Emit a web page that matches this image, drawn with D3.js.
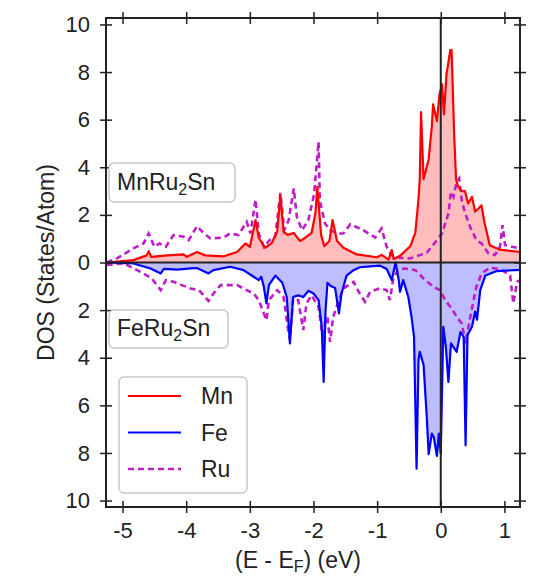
<!DOCTYPE html>
<html>
<head>
<meta charset="utf-8">
<script src="https://cdn.jsdelivr.net/npm/d3@7"></script>
<style>
	body { margin: 0; background: #fff; }
	svg { font-family: "Liberation Sans", Arial, sans-serif; }
</style>
</head>
<body>
<div class="chart"></div>
<script>

// [energy (eV), DOS]; spin down values are negative
var mnDos = [[-5.25,0],[-4.83,0.1],[-4.62,0.3],[-4.59,0.48],[-4.55,0.24],[-4.3,0.3],[-4.04,0.34],[-3.99,0.24],[-3.83,0.44],[-3.7,0.3],[-3.41,0.26],[-3.2,0.44],[-3.07,0.8],[-3.0,0.66],[-2.91,1.78],[-2.86,1.04],[-2.76,0.62],[-2.66,0.8],[-2.57,1.3],[-2.52,2.82],[-2.47,1.3],[-2.41,1.16],[-2.31,1.24],[-2.21,0.9],[-2.13,1.04],[-2.03,1.24],[-1.97,2.06],[-1.94,3.18],[-1.88,1.16],[-1.83,0.68],[-1.75,0.9],[-1.7,1.78],[-1.63,0.9],[-1.53,0.62],[-1.32,0.34],[-1.0,0.22],[-0.93,0.32],[-0.82,0.12],[-0.77,0.52],[-0.74,0.15],[-0.64,0.28],[-0.48,0.68],[-0.4,1.24],[-0.35,2.66],[-0.33,3.5],[-0.31,6.32],[-0.27,3.5],[-0.19,4.34],[-0.14,5.74],[-0.12,6.64],[-0.06,5.94],[-0.02,7.06],[0.02,7.48],[0.05,6.22],[0.09,7.9],[0.15,8.92],[0.17,8.92],[0.21,5.42],[0.24,3.5],[0.27,3.2],[0.33,3.0],[0.38,3.0],[0.43,2.48],[0.49,2.76],[0.54,2.14],[0.59,2.26],[0.64,2.4],[0.69,1.64],[0.77,0.72],[0.93,0.54],[1.25,0.44]];

var ruMnDos = [[-5.25,0],[-5.09,0.17],[-4.83,0.59],[-4.67,0.8],[-4.59,1.22],[-4.5,0.66],[-4.42,0.8],[-4.32,0.66],[-4.2,1.15],[-4.04,1.08],[-3.96,0.94],[-3.83,1.53],[-3.72,1.22],[-3.62,1.01],[-3.41,1.05],[-3.31,1.22],[-3.18,1.15],[-3.05,1.71],[-2.99,1.22],[-2.91,2.65],[-2.86,1.22],[-2.78,0.66],[-2.67,1.0],[-2.6,1.08],[-2.52,2.92],[-2.46,1.36],[-2.39,1.78],[-2.31,3.11],[-2.26,1.9],[-2.18,1.36],[-2.08,1.78],[-1.99,2.88],[-1.92,5.07],[-1.9,2.6],[-1.82,1.65],[-1.74,1.36],[-1.61,1.22],[-1.53,1.22],[-1.42,1.61],[-1.22,1.36],[-1.03,1.05],[-0.93,1.43],[-0.85,0.66],[-0.77,0.31],[-0.64,0.2],[-0.48,0.17],[-0.33,0.31],[-0.22,0.41],[-0.06,0.94],[0.02,1.22],[0.12,2.06],[0.16,2.97],[0.2,2.76],[0.25,3.39],[0.29,3.53],[0.33,2.6],[0.38,2.1],[0.46,1.5],[0.56,0.94],[0.64,0.8],[0.75,0.38],[0.85,0.31],[0.93,0.66],[0.97,1.57],[1.01,0.73],[1.25,0.59]];

var feDos = [[-5.25,0],[-4.83,-0.04],[-4.56,-0.25],[-4.4,-0.46],[-4.35,-0.27],[-4.14,-0.3],[-3.93,-0.25],[-3.83,-0.23],[-3.65,-0.46],[-3.57,-0.32],[-3.31,-0.18],[-3.1,-0.32],[-2.94,-0.6],[-2.86,-0.74],[-2.82,-0.6],[-2.78,-1.02],[-2.74,-1.72],[-2.7,-0.95],[-2.6,-0.55],[-2.49,-0.85],[-2.42,-1.45],[-2.37,-3.4],[-2.32,-1.45],[-2.24,-1.38],[-2.16,-1.45],[-2.08,-1.19],[-2.0,-1.3],[-1.92,-1.58],[-1.87,-2.7],[-1.84,-5.02],[-1.81,-2.0],[-1.78,-0.85],[-1.73,-0.99],[-1.66,-1.07],[-1.6,-2.14],[-1.56,-1.3],[-1.48,-0.55],[-1.38,-0.34],[-1.27,-0.2],[-0.96,-0.13],[-0.85,-0.27],[-0.77,-0.74],[-0.71,0],[-0.66,-0.74],[-0.64,-1.23],[-0.59,-0.74],[-0.51,-1.45],[-0.46,-2.28],[-0.42,-3.12],[-0.38,-8.66],[-0.35,-4.1],[-0.33,-3.75],[-0.27,-4.3],[-0.22,-6.49],[-0.19,-8.05],[-0.14,-7.19],[-0.11,-7.33],[-0.06,-8.12],[-0.03,-7.19],[0.0,-8.03],[0.04,-2.7],[0.08,-3.55],[0.12,-5.02],[0.16,-3.4],[0.2,-3.55],[0.25,-3.75],[0.31,-2.92],[0.36,-3.12],[0.39,-7.68],[0.42,-3.05],[0.49,-2.7],[0.54,-2.06],[0.57,-2.4],[0.62,-1.16],[0.7,-0.55],[0.88,-0.36],[1.25,-0.31]];

var ruFeDos = [[-5.25,-0.1],[-4.98,-0.04],[-4.72,-0.39],[-4.54,-0.67],[-4.4,-1.16],[-4.32,-0.74],[-4.2,-0.81],[-4.07,-0.95],[-3.93,-1.09],[-3.8,-1.16],[-3.65,-1.61],[-3.57,-1.3],[-3.46,-0.95],[-3.2,-0.95],[-3.05,-1.16],[-2.94,-1.3],[-2.86,-1.58],[-2.78,-2.14],[-2.74,-2.42],[-2.7,-1.58],[-2.57,-1.16],[-2.47,-1.45],[-2.39,-2.98],[-2.37,-3.26],[-2.32,-1.52],[-2.24,-1.58],[-2.16,-2.84],[-2.11,-1.72],[-2.03,-1.38],[-1.92,-1.86],[-1.85,-3.26],[-1.82,-2.56],[-1.78,-2.28],[-1.74,-3.33],[-1.69,-2.28],[-1.61,-1.65],[-1.53,-1.09],[-1.37,-0.81],[-1.29,-1.23],[-1.19,-1.65],[-1.11,-1.23],[-0.96,-1.09],[-0.85,-1.16],[-0.8,-1.58],[-0.75,-0.74],[-0.68,-0.32],[-0.56,-0.25],[-0.4,-0.32],[-0.27,-0.67],[-0.12,-1.02],[-0.01,-1.16],[0.07,-1.58],[0.17,-1.93],[0.25,-2.28],[0.33,-2.56],[0.39,-3.4],[0.43,-2.77],[0.49,-1.93],[0.56,-1.02],[0.64,-0.46],[0.77,-0.22],[0.93,-0.27],[1.09,-0.55],[1.14,-1.72],[1.2,-0.81],[1.25,-0.74]];

var xTicks = [-5, -4, -3, -2, -1, 0, 1];
var yTicks = [-10, -8, -6, -4, -2, 0, 2, 4, 6, 8, 10];
var legendNames = ['Mn', 'Fe', 'Ru'];

var w = 548, h = 583;
var pLeft = 106, pRight = 520, pTop = 18, pBottom = 507;

var svg = d3.select('.chart')
	.append('svg')
	.attr('width', w)
	.attr('height', h);

var x = d3.scaleLinear().domain([-5.26, 1.245]).range([pLeft, pRight]);
var y = d3.scaleLinear().domain([-10.27, 10.27]).range([pBottom, pTop]);

var area = d3.area()
	.x(function(d){ return x(d[0]); })
	.y0(y(0))
	.y1(function(d){ return y(d[1]); });

var line = d3.line()
	.x(function(d){ return x(d[0]); })
	.y(function(d){ return y(d[1]); });

svg.append('defs').append('clipPath').attr('id', 'plot')
	.append('rect')
	.attr('x', pLeft).attr('y', pTop)
	.attr('width', pRight - pLeft).attr('height', pBottom - pTop);

var g = svg.append('g').attr('clip-path', 'url(#plot)');

// filled areas first, then lines on top
g.append('path').attr('d', area(mnDos)).attr('fill', '#ffbdbd');
g.append('path').attr('d', area(feDos)).attr('fill', '#bdbdff');

[ruMnDos, ruFeDos].forEach(function(s){
	g.append('path')
		.attr('d', line(s))
		.attr('fill', 'none')
		.attr('stroke', '#c01cc8')
		.attr('stroke-width', 2.6)
		.attr('stroke-dasharray', '6,4');
});

g.append('path').attr('d', line(mnDos)).attr('fill', 'none').attr('stroke', '#ff0000').attr('stroke-width', 2.2).attr('stroke-linejoin', 'round');
g.append('path').attr('d', line(feDos)).attr('fill', 'none').attr('stroke', '#0000ff').attr('stroke-width', 2.2).attr('stroke-linejoin', 'round');

// zero lines
svg.append('line')
	.attr('x1', pLeft).attr('x2', pRight)
	.attr('y1', y(0)).attr('y2', y(0))
	.attr('stroke', '#222').attr('stroke-width', 2);
svg.append('line')
	.attr('x1', x(0)).attr('x2', x(0))
	.attr('y1', pTop).attr('y2', pBottom)
	.attr('stroke', '#222').attr('stroke-width', 2);

// axes: ticks cross the frame on all four sides
function crossTicks(sel, horiz){
	sel.select('.domain').remove();
	sel.selectAll('.tick line')
		.attr('stroke', '#222')
		.attr('stroke-width', 1.5)
		.attr(horiz ? 'y1' : 'x1', -6)
		.attr(horiz ? 'y2' : 'x2', 6);
	sel.selectAll('.tick text')
		.attr('fill', '#222')
		.style('font-size', '22px');
}

svg.append('g')
	.attr('transform', 'translate(0,' + pBottom + ')')
	.call(d3.axisBottom(x).tickValues(xTicks).tickSize(6).tickPadding(9).tickFormat(function(d){ return String(d); }))
	.call(crossTicks, true);
svg.append('g')
	.attr('transform', 'translate(0,' + pTop + ')')
	.call(d3.axisTop(x).tickValues(xTicks).tickFormat(''))
	.call(crossTicks, true);
svg.append('g')
	.attr('transform', 'translate(' + pLeft + ',0)')
	.call(d3.axisLeft(y).tickValues(yTicks).tickSize(6).tickPadding(10).tickFormat(function(d){ return Math.abs(d); }))
	.call(crossTicks, false);
svg.append('g')
	.attr('transform', 'translate(' + pRight + ',0)')
	.call(d3.axisRight(y).tickValues(yTicks).tickFormat(''))
	.call(crossTicks, false);

svg.append('rect')
	.attr('x', pLeft).attr('y', pTop)
	.attr('width', pRight - pLeft).attr('height', pBottom - pTop)
	.attr('fill', 'none').attr('stroke', '#222').attr('stroke-width', 2);

// axis titles
var xt = svg.append('text')
	.attr('x', 298).attr('y', 568)
	.attr('text-anchor', 'middle')
	.style('font-size', '23px')
	.attr('fill', '#222');
xt.append('tspan').text('(E - E');
xt.append('tspan').attr('dy', 4).style('font-size', '16px').text('F');
xt.append('tspan').attr('dy', -4).text(') (eV)');

svg.append('text')
	.attr('transform', 'translate(54,' + y(0) + ') rotate(-90)')
	.attr('text-anchor', 'middle')
	.style('font-size', '23px')
	.attr('fill', '#222')
	.text('DOS (States/Atom)');

// compound labels
function compoundLabel(el, bx, by, bw, bh){
	svg.append('rect')
		.attr('x', bx).attr('y', by).attr('width', bw).attr('height', bh)
		.attr('rx', 5)
		.attr('fill', '#fff').attr('stroke', '#c8c8c8').attr('stroke-width', 1.5);
	var t = svg.append('text')
		.attr('x', bx + 8).attr('y', by + bh - 12)
		.style('font-size', '23px')
		.attr('fill', '#222');
	t.append('tspan').text(el + 'Ru');
	t.append('tspan').attr('dy', 5).style('font-size', '16px').text('2');
	t.append('tspan').attr('dy', -5).text('Sn');
}
compoundLabel('Mn', 109, 163, 126, 39);
compoundLabel('Fe', 109, 310, 119, 38);

// legend
svg.append('rect')
	.attr('x', 119).attr('y', 377).attr('width', 128).attr('height', 116)
	.attr('rx', 5)
	.attr('fill', '#fff').attr('stroke', '#c8c8c8').attr('stroke-width', 1.5);

var legendStyle = [
	{ color: '#ff0000', dash: null, width: 2.2 },
	{ color: '#0000ff', dash: null, width: 2.2 },
	{ color: '#c01cc8', dash: '6,4', width: 2.6 }
];

var legend = svg.selectAll('g.legend')
	.data(legendNames)
	.enter()
	.append('g')
	.attr('class', 'legend')
	.attr('transform', function(d, i){ return 'translate(0,' + (396 + i * 36.5) + ')'; });

legend.append('line')
	.attr('x1', 128).attr('x2', 181)
	.attr('stroke', function(d, i){ return legendStyle[i].color; })
	.attr('stroke-width', function(d, i){ return legendStyle[i].width; })
	.attr('stroke-dasharray', function(d, i){ return legendStyle[i].dash; });

legend.append('text')
	.attr('x', 201).attr('y', 8)
	.style('font-size', '23px')
	.attr('fill', '#222')
	.text(function(d){ return d; });

</script>
</body>
</html>
